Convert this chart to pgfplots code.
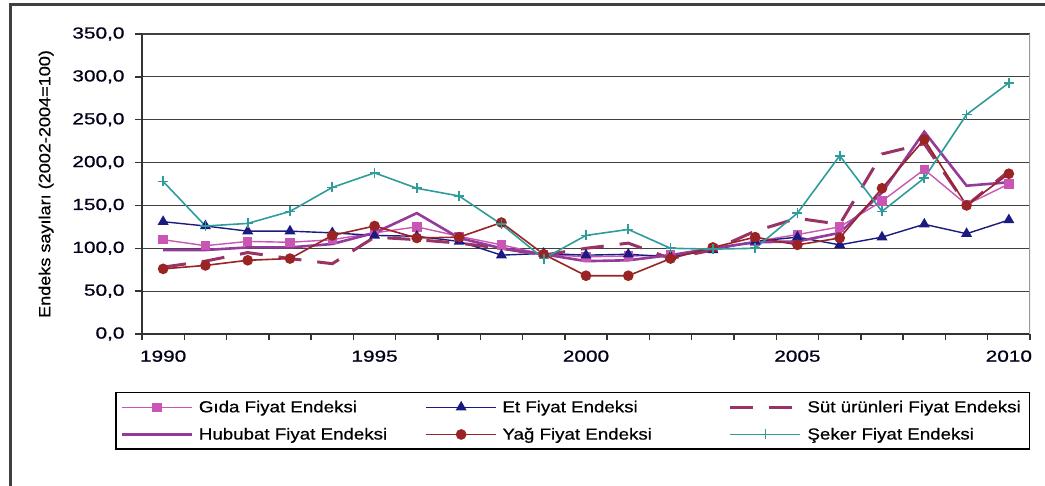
\documentclass[border=0pt]{standalone}
\usepackage{pgfplots}
\pgfplotsset{compat=1.18}
\usepackage{fontspec}
\setmainfont{Liberation Sans}
\newfontfamily\tickfont{Liberation Sans}[FakeStretch=1.3, FakeBold=0.8]
\newfontfamily\legfont{Liberation Sans}[FakeStretch=1.17, FakeBold=0.6]
\newfontfamily\labfont{Liberation Sans}[FakeStretch=1.13, FakeBold=0.6]
\definecolor{gida}{HTML}{C955B5}
\definecolor{et}{HTML}{1A1A80}
\definecolor{sut}{HTML}{993366}
\definecolor{hububat}{HTML}{933A9A}
\definecolor{yag}{HTML}{9A2424}
\definecolor{seker}{HTML}{2F9C9A}
\newcommand{\lent}[1]{\hspace{2bp}\makebox[223bp][l]{#1}}
\begin{document}
\begin{tikzpicture}
\path[use as bounding box] (0,0) rectangle (1045bp,486bp);
\draw[line width=3bp, black!75] (10bp,0) -- (10bp,481bp) -- (1045bp,481bp);
\begin{axis}[
  at={(142bp,152bp)}, anchor=south west,
  scale only axis, width=888bp, height=300bp,
  xmin=-0.5, xmax=20.5, ymin=0, ymax=350,
  axis x line*=bottom, axis y line*=left,
  axis line style={line width=1.8bp, black!80, -},
  xtick={0,5,10,15,20},
  xticklabels={1990,1995,2000,2005,2010},
  minor xtick={-0.5,0.5,...,20.5},
  ytick={0,50,...,350},
  ymajorgrids,
  grid style={line width=1.2bp, black!75},
  tick align=outside,
  major tick length=7bp, minor tick length=6bp,
  major x tick style={draw=none},
  every tick/.append style={line width=1.5bp, black!80},
  ticklabel style={font=\tickfont\fontsize{16bp}{19bp}\selectfont, text=black!90!blue},
  xticklabel style={yshift=-6bp},
  /pgf/number format/assume math mode=true,
  yticklabel style={xshift=-7bp, /pgf/number format/.cd, fixed, fixed zerofill, precision=1, use comma, 1000 sep={}},
  ylabel={Endeks sayıları (2002-2004=100)},
  every axis y label/.style={at={(axis description cs:-0.108,0.5)}, rotate=90, anchor=center},
  ylabel style={font=\labfont\fontsize{16bp}{19bp}\selectfont},
  legend columns=3,
  legend cell align=left,
  legend style={at={(axis description cs:-0.0304,-0.1933)}, anchor=north west,
    draw=black, line width=1.5bp,
    font=\legfont\fontsize{16bp}{19bp}\selectfont,
    inner xsep=5bp, inner ysep=6bp,
    /tikz/column sep=0pt, /tikz/row sep=10bp,
    nodes={inner xsep=3.5bp}},
  legend image code/.code={\draw[mark repeat=2, mark phase=2, #1] plot coordinates {(0bp,0bp) (35bp,0bp) (70bp,0bp)};},
]
\draw[black!40, line width=1.5bp] (rel axis cs:1,0) -- (rel axis cs:1,1);

\addplot[gida, line width=1.4bp, mark=square*, mark size=4bp, mark options={solid, fill=gida}] coordinates {
(0,110) (1,103) (2,108) (3,107) (4,110) (5,118) (6,125) (7,114) (8,104) (9,93) (10,90)
(11,91) (12,92) (13,100) (14,108) (15,116) (16,125) (17,155) (18,192) (19,151) (20,175)};
\addlegendentry{\lent{Gıda Fiyat Endeksi}}

\addplot[et, line width=1.4bp, mark=triangle*, mark size=5bp, mark options={solid, fill=et}] coordinates {
(0,131) (1,126) (2,120) (3,120) (4,118) (5,115) (6,114) (7,108) (8,92) (9,94) (10,92)
(11,93) (12,90) (13,98) (14,108) (15,113) (16,104) (17,113) (18,128) (19,117) (20,133)};
\addlegendentry{\lent{Et Fiyat Endeksi}}

\addplot[sut, line width=3bp, dash pattern=on 23bp off 16bp] coordinates {
(0,78) (1,85) (2,95) (3,88) (4,82) (5,113) (6,110) (7,106) (8,100) (9,92) (10,100)
(11,106) (12,88) (13,98) (14,120) (15,135) (16,128) (17,210) (18,222) (19,150) (20,190)};
\addlegendentry{\hspace{2bp}Süt ürünleri Fiyat Endeksi}

\addplot[hububat, line width=2.6bp] coordinates {
(0,98) (1,98) (2,101) (3,101) (4,105) (5,118) (6,141) (7,112) (8,100) (9,93) (10,85)
(11,86) (12,92) (13,100) (14,107) (15,108) (16,118) (17,165) (18,236) (19,173) (20,177)};
\addlegendentry{\lent{Hububat Fiyat Endeksi}}

\addplot[yag, line width=1.6bp, mark=*, mark size=4.5bp, mark options={solid, fill=yag}] coordinates {
(0,76) (1,80) (2,86) (3,88) (4,115) (5,126) (6,112) (7,113) (8,130) (9,93) (10,68)
(11,68) (12,88) (13,101) (14,113) (15,104) (16,112) (17,170) (18,227) (19,150) (20,187)};
\addlegendentry{\lent{Yağ Fiyat Endeksi}}

\addplot[seker, line width=1.6bp, mark=+, mark size=5bp, mark options={solid, line width=1.6bp}] coordinates {
(0,178) (1,126) (2,129) (3,143) (4,171) (5,188) (6,170) (7,161) (8,128) (9,88) (10,115)
(11,122) (12,100) (13,99) (14,100) (15,141) (16,208) (17,143) (18,182) (19,256) (20,293)};
\addlegendentry{\hspace{2bp}Şeker Fiyat Endeksi}
\end{axis}
\end{tikzpicture}
\end{document}
